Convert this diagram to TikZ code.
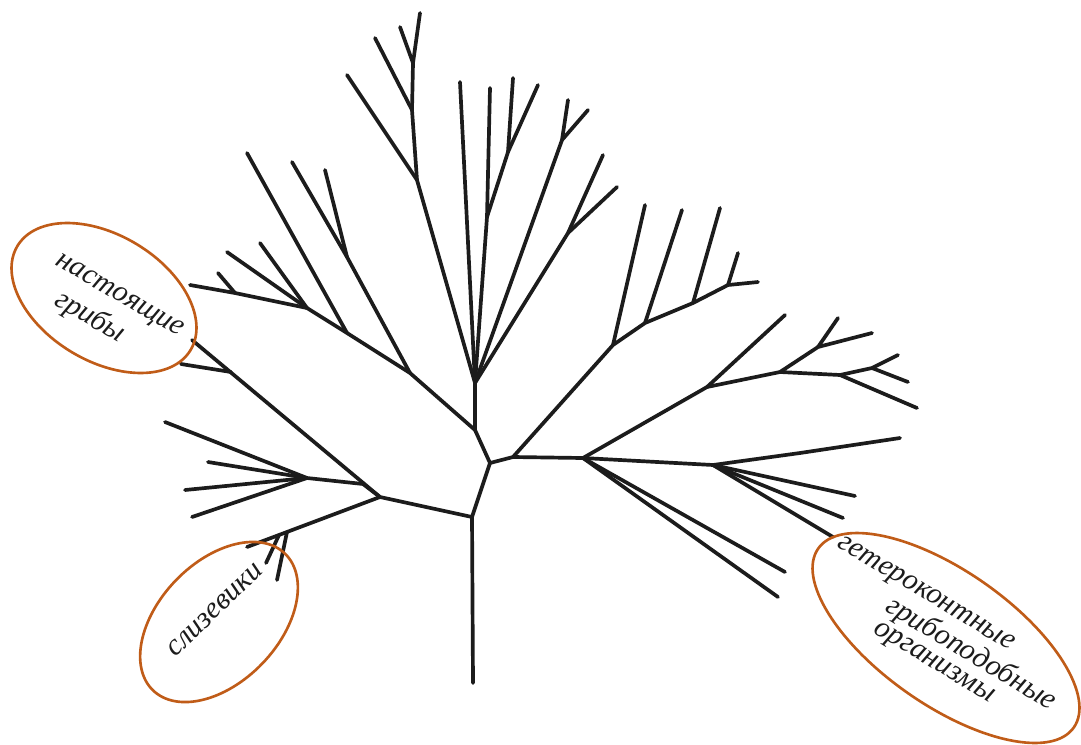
\documentclass[tikz,border=0pt]{standalone}
\usepackage{fontspec}
\setmainfont{Liberation Serif}
\definecolor{TreeInk}{RGB}{28,28,28}
\definecolor{RingOrange}{RGB}{192,92,24}

\begin{document}
\begin{tikzpicture}[x=0.02cm, y=-0.02cm,
          twig/.style={line width=2.1pt, TreeInk, line cap=round, line join=round},
          ring/.style={line width=1.5pt, RingOrange},
          lbl/.style={font=\fontsize{17}{17}\selectfont\itshape, inner sep=0pt, text=TreeInk}
        ]
        \useasboundingbox (0,0) rectangle (1081,744);

        % Trunk
        \coordinate (base) at (473,683);
        \coordinate (fork) at (472,517);
        \coordinate (mid) at (490,463);
        \coordinate (knee) at (475,430);
        \coordinate (crown) at (475,383);
        \draw[twig] (base) -- (fork) -- (mid) -- (knee) -- (crown);

        % Left lower group
        \coordinate (left) at (380,497);
        \coordinate (fanbend) at (363,484);
        \coordinate (fan) at (307,478);
        \coordinate (fan1) at (165,422);
        \coordinate (fan2) at (208,462);
        \coordinate (fan3) at (185,490);
        \coordinate (fan4) at (192,517);
        \draw[twig] (fork) -- (left) -- (fanbend) -- (fan);
        \foreach \i in {1,...,4}
          \draw[twig] (fan) -- (fan\i);

        \coordinate (upl) at (192,340);
        \coordinate (upltw) at (231,372);
        \coordinate (upltip) at (181,364);
        \draw[twig] (left) -- (upl);
        \draw[twig] (upltw) -- (upltip);

        % Slime moulds branch
        \coordinate (slime) at (247,547);
        \coordinate (slimeA) at (287,532);
        \coordinate (slimeB) at (279,535);
        \coordinate (slime1) at (277,580);
        \coordinate (slime2) at (266,563);
        \draw[twig] (left) -- (slime);
        \draw[twig] (slimeA) -- (slime1);
        \draw[twig] (slimeB) -- (slime2);

        % Big upper-left branch
        \coordinate (bl1) at (410,373);
        \coordinate (bl2) at (347,333);
        \coordinate (bl3) at (307,308);
        \coordinate (bl4) at (235,293);
        \coordinate (bl5) at (190,285);
        \draw[twig] (knee) -- (bl1) -- (bl2) -- (bl3) -- (bl4) -- (bl5);
        \coordinate (bl1a) at (347,257);
        \coordinate (bl1b) at (292,162);
        \coordinate (bl1c) at (325,170);
        \draw[twig] (bl1) -- (bl1a) -- (bl1b);
        \draw[twig] (bl1a) -- (bl1c);
        \coordinate (bl2a) at (247,153);
        \draw[twig] (bl2) -- (bl2a);
        \coordinate (bl3a) at (260,243);
        \coordinate (bl3b) at (227,252);
        \draw[twig] (bl3) -- (bl3a);
        \draw[twig] (bl3) -- (bl3b);
        \coordinate (bl4a) at (218,273);
        \draw[twig] (bl4) -- (bl4a);

        % Centre
        \coordinate (top) at (460,82);
        \draw[twig] (crown) -- (top);

        \coordinate (cl1) at (417,180);
        \coordinate (cl2) at (412,110);
        \coordinate (cl3) at (413,63);
        \coordinate (cl4) at (420,13);
        \coordinate (cl1a) at (347,75);
        \coordinate (cl2a) at (375,38);
        \coordinate (cl3a) at (400,27);
        \draw[twig] (crown) -- (cl1) -- (cl2) -- (cl3) -- (cl4);
        \draw[twig] (cl1) -- (cl1a);
        \draw[twig] (cl2) -- (cl2a);
        \draw[twig] (cl3) -- (cl3a);

        \coordinate (cr1) at (487,217);
        \coordinate (cr2) at (490,88);
        \coordinate (cr3) at (508,152);
        \coordinate (cr4) at (513,78);
        \coordinate (cr3a) at (538,85);
        \draw[twig] (crown) -- (cr1) -- (cr2);
        \draw[twig] (cr1) -- (cr3) -- (cr4);
        \draw[twig] (cr3) -- (cr3a);

        \coordinate (ce1) at (562,140);
        \coordinate (ce2) at (568,100);
        \coordinate (ce1a) at (588,110);
        \draw[twig] (crown) -- (ce1) -- (ce2);
        \draw[twig] (ce1) -- (ce1a);

        \coordinate (cf1) at (568,233);
        \coordinate (cf2) at (603,155);
        \coordinate (cf1a) at (617,187);
        \draw[twig] (crown) -- (cf1) -- (cf2);
        \draw[twig] (cf1) -- (cf1a);

        % Right upper group
        \coordinate (rbase) at (513,457);
        \coordinate (ru1) at (613,345);
        \coordinate (ru2) at (645,323);
        \coordinate (ru3) at (693,303);
        \coordinate (ru4) at (728,285);
        \coordinate (ru5) at (758,282);
        \coordinate (ru1a) at (645,205);
        \coordinate (ru2a) at (682,210);
        \coordinate (ru3a) at (720,208);
        \coordinate (ru4a) at (738,253);
        \draw[twig] (mid) -- (rbase) -- (ru1) -- (ru2) -- (ru3) -- (ru4) -- (ru5);
        \draw[twig] (ru1) -- (ru1a);
        \draw[twig] (ru2) -- (ru2a);
        \draw[twig] (ru3) -- (ru3a);
        \draw[twig] (ru4) -- (ru4a);

        % Right middle group
        \coordinate (rm0) at (583,458);
        \coordinate (rm1) at (707,387);
        \coordinate (rm1a) at (785,315);
        \coordinate (rm2) at (780,372);
        \coordinate (rm3) at (818,347);
        \coordinate (rm3a) at (872,333);
        \coordinate (rm3b) at (838,318);
        \coordinate (rm4) at (840,375);
        \coordinate (rm4a) at (917,408);
        \coordinate (rm5) at (872,368);
        \coordinate (rm5a) at (898,355);
        \coordinate (rm5b) at (908,382);
        \draw[twig] (rbase) -- (rm0) -- (rm1) -- (rm1a);
        \draw[twig] (rm1) -- (rm2) -- (rm3) -- (rm3a);
        \draw[twig] (rm3) -- (rm3b);
        \draw[twig] (rm2) -- (rm4) -- (rm5) -- (rm5a);
        \draw[twig] (rm5) -- (rm5b);
        \draw[twig] (rm4) -- (rm4a);

        % Right lower group
        \coordinate (rl1) at (713,465);
        \coordinate (rl2) at (800,453);
        \coordinate (rl3) at (900,438);
        \coordinate (rl1a) at (855,496);
        \coordinate (rl1b) at (843,518);
        \coordinate (rl1c) at (833,537);
        \coordinate (rl0a) at (785,572);
        \coordinate (rl0b) at (778,597);
        \draw[twig] (rm0) -- (rl1) -- (rl2) -- (rl3);
        \draw[twig] (rl1) -- (rl1a);
        \draw[twig] (rl1) -- (rl1b);
        \draw[twig] (rl1) -- (rl1c);
        \draw[twig] (rm0) -- (rl0a);
        \draw[twig] (rm0) -- (rl0b);

        % Rings and labels
        \draw[ring, rotate around={-31:(104,298)}] (104,298) ellipse [x radius=101, y radius=63];
        \node[lbl, rotate=-30] (real1) at (119,297) {настоящие};
        \node[lbl, rotate=-30] (real2) at (90,317) {грибы};

        \draw[ring, rotate around={46:(219,622)}] (219,622) ellipse [x radius=95, y radius=60];
        \node[lbl, rotate=44] (slimelbl) at (215,610) {слизевики};

        \draw[ring, rotate around={-35:(946,638)}] (946,638) ellipse [x radius=156, y radius=67];
        \node[lbl, rotate=-31] (het1) at (925,595) {гетероконтные};
        \node[lbl, rotate=-31] (het2) at (971,654) {грибоподобные};
        \node[lbl, rotate=-31] (het3) at (933,664) {организмы};
      \end{tikzpicture}
\end{document}
